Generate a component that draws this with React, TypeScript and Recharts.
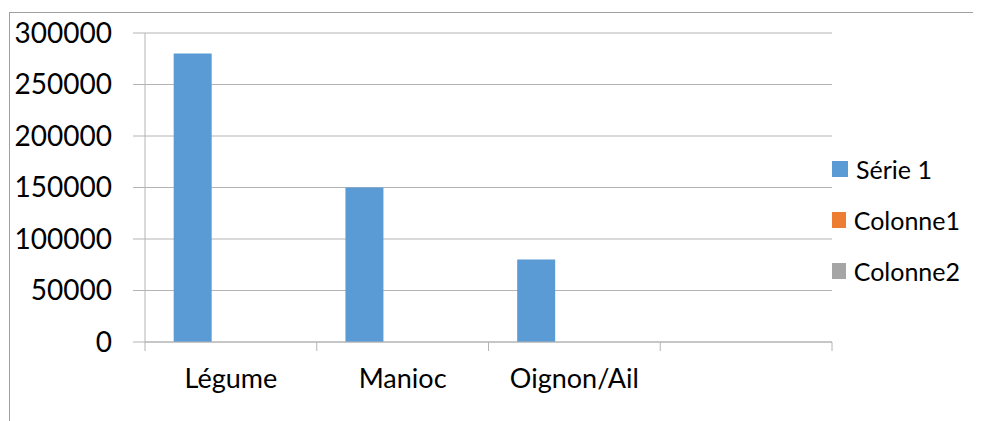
import React from 'react';
import { BarChart, Bar, XAxis, YAxis, CartesianGrid, Legend } from 'recharts';

const categories = ['Légume', 'Manioc', 'Oignon/Ail', ''];
const serie1 = [280000, 150000, 80000, null];
const colonne1 = [null, null, null, null];
const colonne2 = [null, null, null, null];
const seriesNames = ['Série 1', 'Colonne1', 'Colonne2'];
const yTicks = [0, 50000, 100000, 150000, 200000, 250000, 300000];

const data = categories.map((name, i) => ({
  name,
  serie1: serie1[i],
  colonne1: colonne1[i],
  colonne2: colonne2[i],
}));

const FONT = 'Lato, "Open Sans", sans-serif';
const GRID = '#b4b4b4';

// category label centred in its band, tick marks on the band edges (Excel style)
const CategoryTick = (props: any) => {
  const { x, y, payload, index, visibleTicksCount } = props;
  const half = payload.offset || 0;
  const isLast = index === visibleTicksCount - 1;
  return (
    <g>
      <line x1={x - half} x2={x - half} y1={y} y2={y + 9} stroke={GRID} />
      {isLast && <line x1={x + half} x2={x + half} y1={y} y2={y + 9} stroke={GRID} />}
      <text x={x} y={y + 27} dy="0.71em" textAnchor="middle" fill="#000" fontSize={27} fontFamily={FONT}>
        {payload.value}
      </text>
    </g>
  );
};

const renderLegend = (props: any) => {
  const items = [...(props.payload || [])].sort(
    (a: any, b: any) => seriesNames.indexOf(a.value) - seriesNames.indexOf(b.value)
  );
  return (
    <div style={{ width: 128, fontFamily: FONT, fontSize: 25, color: '#000' }}>
      {items.map((entry: any) => (
        <div key={entry.value} style={{ display: 'flex', alignItems: 'center', height: 51 }}>
          <span style={{ width: 16, height: 16, background: entry.color, marginRight: 8, display: 'inline-block' }} />
          <span>{entry.value}</span>
        </div>
      ))}
    </div>
  );
};

export default function App() {
  return (
    <div style={{ position: 'relative', width: 965, height: 413 }}>
      <div
        style={{
          position: 'absolute', left: 1, top: 4, width: 971, height: 409,
          borderTop: '1px solid #a0a0a0', borderLeft: '1px solid #a0a0a0', boxSizing: 'border-box',
        }}
      />
      <div style={{ position: 'absolute', left: 0, top: 0 }}>
        <BarChart
          width={960}
          height={413}
          data={data}
          margin={{ top: 25, right: 8, left: 0, bottom: 19 }}
          barCategoryGap="16.7%"
          barGap={0}
        >
          <CartesianGrid vertical={false} stroke={GRID} />
          <XAxis
            dataKey="name"
            height={60}
            axisLine={{ stroke: GRID }}
            tickLine={false}
            tickSize={0}
            tickMargin={0}
            interval={0}
            tick={<CategoryTick />}
          />
          <YAxis
            domain={[0, 300000]}
            ticks={yTicks}
            width={137}
            axisLine={{ stroke: GRID }}
            tickLine={{ stroke: GRID }}
            tickSize={12}
            tickMargin={21}
            tick={{ fill: '#000', fontSize: 28, fontFamily: FONT }}
          />
          <Legend
            layout="vertical"
            align="right"
            verticalAlign="top"
            wrapperStyle={{ top: 135, right: 8 }}
            content={renderLegend}
          />
          <Bar dataKey="serie1" name="Série 1" fill="#5B9BD5" isAnimationActive={false} />
          <Bar dataKey="colonne1" name="Colonne1" fill="#ED7D31" isAnimationActive={false} />
          <Bar dataKey="colonne2" name="Colonne2" fill="#A5A5A5" isAnimationActive={false} />
        </BarChart>
      </div>
    </div>
  );
}
